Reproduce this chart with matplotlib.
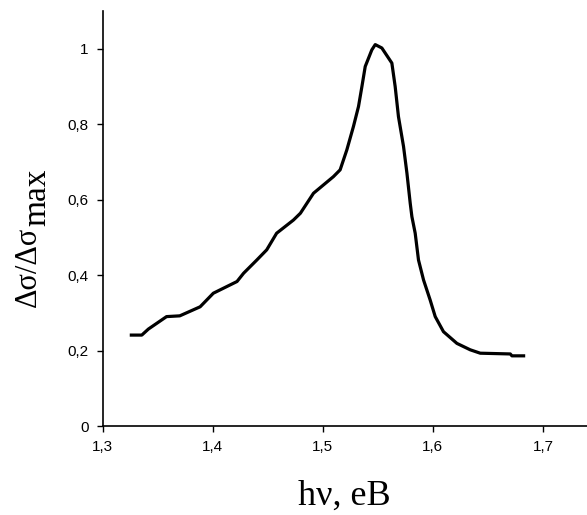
import matplotlib
matplotlib.use("Agg")
import matplotlib.pyplot as plt

# photon energy (eV) and normalised signal
energy = [1.326, 1.3355, 1.3415, 1.358, 1.370, 1.3885, 1.4005, 1.422, 1.428,
          1.440, 1.449, 1.458, 1.4733, 1.4796, 1.4915, 1.5096, 1.5157, 1.5218,
          1.5278, 1.5324, 1.5355, 1.5385, 1.5445, 1.5476, 1.5536, 1.5627,
          1.5657, 1.5687, 1.5733, 1.5764, 1.5794, 1.5809, 1.5839, 1.5869,
          1.5915, 1.5975, 1.6021, 1.6096, 1.6218, 1.6339, 1.643, 1.6703,
          1.6718, 1.6824]
signal = [0.241, 0.241, 0.257, 0.290, 0.292, 0.316, 0.352, 0.383, 0.405,
          0.440, 0.467, 0.511, 0.546, 0.564, 0.617, 0.661, 0.679, 0.732,
          0.794, 0.847, 0.900, 0.953, 0.997, 1.011, 1.002, 0.962,
          0.900, 0.820, 0.741, 0.670, 0.590, 0.555, 0.511, 0.440,
          0.387, 0.334, 0.290, 0.250, 0.219, 0.202, 0.193, 0.191,
          0.186, 0.186]

xticks = [1.3, 1.4, 1.5, 1.6, 1.7]
xlabels = ["1,3", "1,4", "1,5", "1,6", "1,7"]
yticks = [0, 0.2, 0.4, 0.6, 0.8, 1.0]
ylabels = ["0", "0,2", "0,4", "0,6", "0,8", "1"]

fig = plt.figure(figsize=(5.87, 5.15), dpi=100)
ax = fig.add_axes([0.175, 0.1728, 0.825, 0.8058])

ax.plot(energy, signal, color="black", lw=2.3, solid_joinstyle="round")

ax.set_xlim(1.3, 1.74)
ax.set_ylim(0, 1.10)
ax.spines["top"].set_visible(False)
ax.spines["right"].set_visible(False)
for s in ("left", "bottom"):
    ax.spines[s].set_linewidth(1.2)

ax.set_xticks(xticks)
ax.set_xticklabels(xlabels, fontfamily="Liberation Sans", fontsize=11)
ax.set_yticks(yticks)
ax.set_yticklabels(ylabels, fontfamily="Liberation Sans", fontsize=11)
ax.tick_params(direction="out", length=4, width=1, pad=6)

W, H = 587.0, 515.0
fig.text(344 / W, 1 - 505 / H, "hν, eB", family="Liberation Serif",
         fontsize=26, ha="center", va="baseline")
# y label: main part plus a large subscript, both rotated
fig.text(36 / W, 1 - 307 / H, "Δσ/Δσ", family="Liberation Serif",
         fontsize=22, rotation=90, rotation_mode="anchor",
         ha="left", va="baseline")
fig.text(45 / W, 1 - 226 / H, "max", family="Liberation Serif",
         fontsize=24, rotation=90, rotation_mode="anchor",
         ha="left", va="baseline")

fig.savefig("out.png", dpi=100)
